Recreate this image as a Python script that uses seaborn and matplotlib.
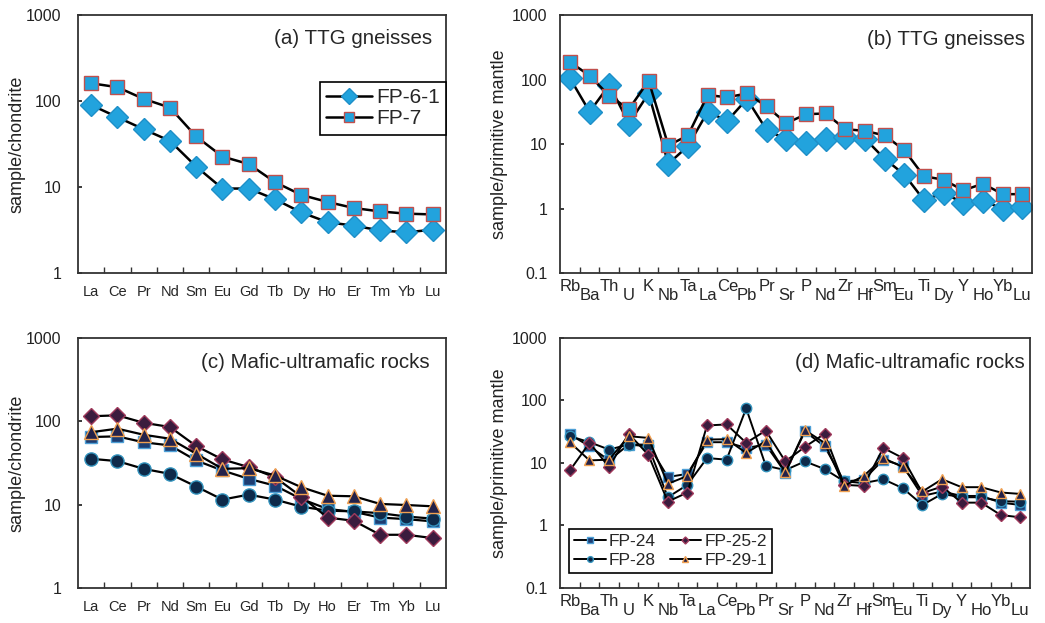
import numpy as np
import pandas as pd
import matplotlib
matplotlib.use("Agg")
import matplotlib.pyplot as plt
from matplotlib.ticker import FixedLocator, NullLocator, FuncFormatter
import seaborn as sns

# ---------------- data ----------------
ree = ["La", "Ce", "Pr", "Nd", "Sm", "Eu", "Gd", "Tb", "Dy", "Ho", "Er", "Tm", "Yb", "Lu"]
spider = ["Rb", "Ba", "Th", "U", "K", "Nb", "Ta", "La", "Ce", "Pb", "Pr", "Sr", "P", "Nd",
          "Zr", "Hf", "Sm", "Eu", "Ti", "Dy", "Y", "Ho", "Yb", "Lu"]

# (a) TTG gneisses, chondrite-normalised
fp61_ree = [90, 65, 47, 34.4, 17.3, 9.6, 9.6, 7.2, 5.07, 3.9, 3.55, 3.13, 2.97, 3.19]
fp7_ree = [161, 145, 106, 84, 38.7, 22.6, 18.5, 11.4, 8.1, 6.7, 5.7, 5.2, 4.9, 4.8]

# (b) TTG gneisses, primitive-mantle-normalised
fp61_spider = [105, 31.6, 82.6, 20.8, 61, 4.93, 9.3, 31.6, 22.9, 50, 16.5, 11.8, 10.5, 12.1,
               13, 12.1, 5.9, 3.36, 1.35, 1.74, 1.22, 1.32, 0.99, 1.06]
fp7_spider = [187, 115, 56, 34.8, 96, 9.5, 13.6, 57.6, 53, 61, 38.3, 21, 29, 29.8,
              17, 16, 13.6, 8.05, 3.16, 2.8, 1.91, 2.43, 1.67, 1.67]

# (c) Mafic-ultramafic rocks, chondrite-normalised
fp24_ree = [64.8, 66, 56, 51.4, 33.9, 25.7, 20.4, 16.9, 11.7, 8.87, 8.2, 7.0, 6.7, 6.3]
fp25_ree = [115, 118, 96, 85.5, 50.5, 34.9, 28.2, 21.3, 12.5, 7.0, 6.4, 4.35, 4.35, 3.97]
fp28_ree = [35.5, 33.3, 26.9, 23.4, 16.5, 11.5, 13.2, 11.5, 9.46, 8.47, 8.3, 7.9, 7.2, 6.8]
fp29_ree = [74, 81.6, 69, 61.8, 40.8, 26.9, 27.4, 22.4, 16.2, 12.8, 12.6, 10.2, 9.9, 9.55]

# (d) Mafic-ultramafic rocks, primitive-mantle-normalised
fp24_spider = [28.6, 18.5, 11, 19.7, 19.7, 5.96, 6.7, 21.5, 21.5, 17.4, 19.7, 7.0, 32, 18.5,
               5.06, 5.4, 11.3, 9, 2.97, 3.5, 2.97, 2.97, 2.32, 2.13]
fp25_spider = [7.6, 21, 8.6, 29.3, 13.6, 2.41, 3.37, 39.8, 41.4, 21, 33, 10.6, 18.1, 29.3,
               4.47, 4.3, 17.4, 12, 3.3, 4.2, 2.32, 2.32, 1.47, 1.35]
fp28_spider = [26.8, 21.5, 16.4, 19.7, 18.5, 2.83, 4.47, 12.0, 11.3, 74.8, 9.05, 7.7, 10.6, 8.0,
               5.1, 4.76, 5.5, 3.95, 2.13, 3.2, 2.83, 2.83, 2.45, 2.4]
fp29_spider = [21.4, 11, 11.3, 26.8, 25.2, 4.65, 6.2, 23.7, 24, 14.5, 22.3, 7.1, 33.5, 21,
               4.3, 6.2, 12, 8.6, 3.5, 5.5, 4.1, 4.1, 3.37, 3.2]

# ---------------- style ----------------
sns.set_theme(style="ticks")
plt.rcParams["font.family"] = ["Liberation Sans", "DejaVu Sans"]
plt.rcParams["axes.edgecolor"] = "#333333"
plt.rcParams["axes.linewidth"] = 1.3

fig = plt.figure(figsize=(10.45, 6.23), dpi=100, facecolor="white")
ax_a = fig.add_axes([0.0746, 0.5618, 0.352, 0.414])
ax_b = fig.add_axes([0.536, 0.5618, 0.4517, 0.414])
ax_c = fig.add_axes([0.0746, 0.0562, 0.352, 0.4013])
ax_d = fig.add_axes([0.536, 0.0562, 0.4498, 0.4013])

LB = "#22A3DD"


def draw(ax, cats, vals, label, marker, face, edge, ms, lw, mew=1.0):
    df = pd.DataFrame({"x": np.arange(len(cats)), "y": vals})
    sns.lineplot(data=df, x="x", y="y", ax=ax, color="black", lw=lw, marker=marker,
                 markersize=ms, markerfacecolor=face, markeredgecolor=edge,
                 markeredgewidth=mew, label=label, legend=False)


def style_axis(ax, cats, ylim, ylabel, alternate, xfs, ypad, lpad):
    n = len(cats)
    ax.set_yscale("log")
    ax.set_ylim(*ylim)
    ax.set_xlim(-0.5, n - 0.5)
    decades = [10.0 ** k for k in range(int(np.log10(ylim[0])), int(np.log10(ylim[1])) + 1)]
    ax.yaxis.set_major_locator(FixedLocator(decades))
    ax.yaxis.set_minor_locator(NullLocator())
    ax.yaxis.set_major_formatter(FuncFormatter(lambda v, p: f"{v:g}"))
    ax.tick_params(axis="y", direction="in", length=3, pad=ypad, labelsize=11.5,
                   colors="#222222")
    pos = np.arange(n)
    if alternate:
        ax.set_xticks(pos[::2], cats[::2])
        ax.set_xticks(pos[1::2], cats[1::2], minor=True)
        ax.tick_params(axis="x", which="major", length=0, pad=4, labelsize=xfs)
        ax.tick_params(axis="x", which="minor", length=0, pad=10.5, labelsize=xfs)
    else:
        ax.set_xticks(pos, cats)
        ax.xaxis.set_minor_locator(NullLocator())
        ax.tick_params(axis="x", which="major", length=0, pad=8.5, labelsize=xfs)
    sec = ax.secondary_xaxis("bottom")
    sec.set_xticks(np.arange(0.5, n - 0.5, 1.0))
    sec.tick_params(direction="in", length=4, width=1, labelbottom=False, colors="#333333")
    sec.spines["bottom"].set_visible(False)
    ax.set_xlabel("")
    ax.set_ylabel(ylabel, fontsize=13, labelpad=lpad, color="#222222")
    for sp in ax.spines.values():
        sp.set_visible(True)


TFS = 14.8

# (a)
draw(ax_a, ree, fp61_ree, "FP-6-1", "D", LB, "#1E8FC8", 11, 1.8)
draw(ax_a, ree, fp7_ree, "FP-7", "s", LB, "#C0504D", 9.5, 1.8)
style_axis(ax_a, ree, (1, 1000), "sample/chondrite", False, 10.5, 12, 0.5)
ax_a.text(0.962, 0.91, "(a) TTG gneisses", transform=ax_a.transAxes, ha="right",
          va="center", fontsize=TFS)
leg = ax_a.legend(loc="upper right", bbox_to_anchor=(1.0, 0.74), fontsize=15,
                  frameon=True, fancybox=False, edgecolor="black", framealpha=1,
                  handlelength=2.2, handletextpad=0.2, borderpad=0.3, labelspacing=0.1,
                  borderaxespad=0, markerscale=0.75)
leg.get_frame().set_linewidth(1.2)

# (b)
draw(ax_b, spider, fp61_spider, "FP-6-1", "D", LB, "#1E8FC8", 12.5, 1.8)
draw(ax_b, spider, fp7_spider, "FP-7", "s", LB, "#C0504D", 10.5, 1.8)
style_axis(ax_b, spider, (0.1, 1000), "sample/primitive mantle", True, 12, 9, 3)
ax_b.text(0.985, 0.905, "(b) TTG gneisses", transform=ax_b.transAxes, ha="right",
          va="center", fontsize=TFS)

# (c) / (d) styling per sample
sty = {
    "FP-24": dict(marker="s", face="#1d3d72", edge="#4d9fd6"),
    "FP-25-2": dict(marker="D", face="#3b1c3e", edge="#a03a5c"),
    "FP-28": dict(marker="o", face="#0e2a4a", edge="#3393bd"),
    "FP-29-1": dict(marker="^", face="#24224a", edge="#f0a050"),
}
ms_c = {"FP-24": 8.5, "FP-25-2": 8.5, "FP-28": 9.5, "FP-29-1": 10}
ms_d = {"FP-24": 7, "FP-25-2": 6.5, "FP-28": 7.5, "FP-29-1": 7.5}

series_c = [("FP-24", fp24_ree), ("FP-28", fp28_ree), ("FP-25-2", fp25_ree), ("FP-29-1", fp29_ree)]
series_d = [("FP-24", fp24_spider), ("FP-28", fp28_spider), ("FP-25-2", fp25_spider), ("FP-29-1", fp29_spider)]

for name, vals in series_c:
    s = sty[name]
    draw(ax_c, ree, vals, name, s["marker"], s["face"], s["edge"], ms_c[name], 1.6)
style_axis(ax_c, ree, (1, 1000), "sample/chondrite", False, 10.5, 12, 0.5)
ax_c.text(0.957, 0.9, "(c) Mafic-ultramafic rocks", transform=ax_c.transAxes, ha="right",
          va="center", fontsize=TFS)

for name, vals in series_d:
    s = sty[name]
    draw(ax_d, spider, vals, name, s["marker"], s["face"], s["edge"], ms_d[name], 1.4)
style_axis(ax_d, spider, (0.1, 1000), "sample/primitive mantle", True, 12, 9, 3)
ax_d.text(0.989, 0.9, "(d) Mafic-ultramafic rocks", transform=ax_d.transAxes, ha="right",
          va="center", fontsize=TFS)
legd = ax_d.legend(loc="lower left", bbox_to_anchor=(0.019, 0.06), ncol=2, fontsize=12.5,
                   frameon=True, fancybox=False, edgecolor="black", framealpha=1,
                   handlelength=1.8, handletextpad=0.2, borderpad=0.3, labelspacing=0.2,
                   columnspacing=0.8, borderaxespad=0, markerscale=0.55)
legd.get_frame().set_linewidth(1.2)

fig.savefig("out.png", dpi=100, facecolor="white")
